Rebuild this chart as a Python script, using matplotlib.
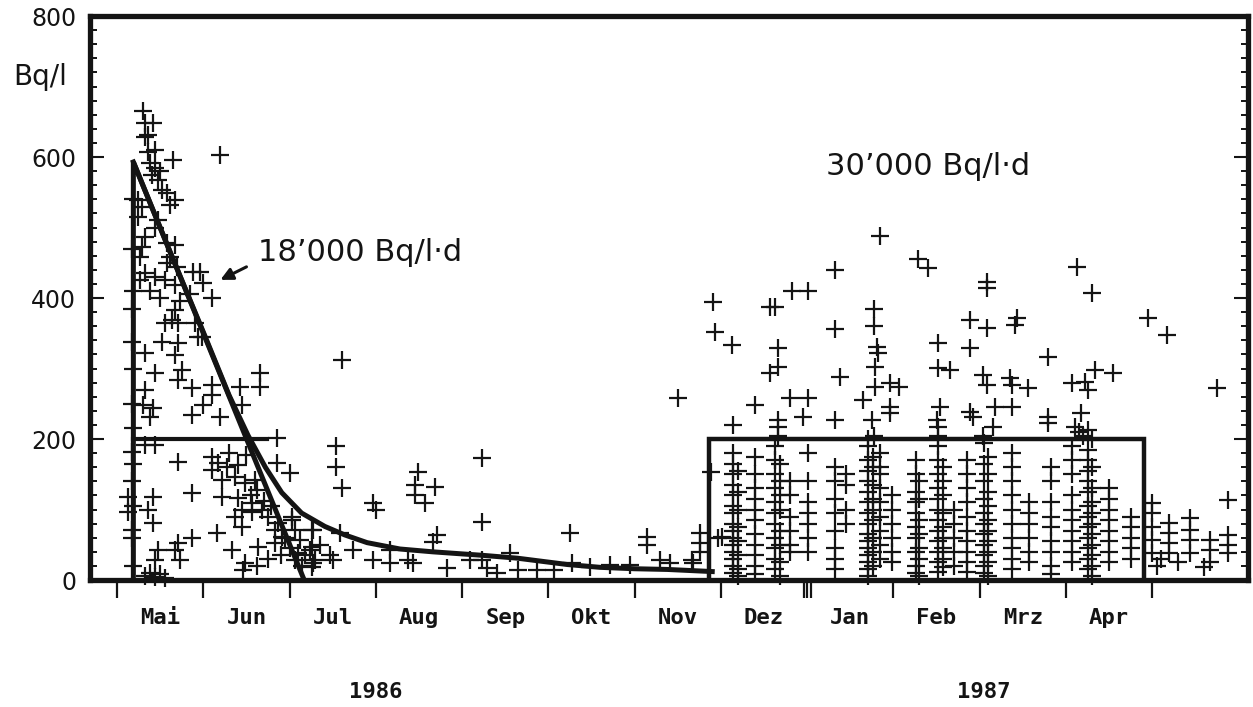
"""Tritium in Niederschlag 1986/87: Einzelmessungen mit Abklingkurve und Integralen."""

import matplotlib.pyplot as plt
import matplotlib.transforms as mtransforms
from matplotlib.ticker import MultipleLocator, FixedLocator, NullFormatter

# x: Monate ab 1. Mai 1986, y: Bq/l
month_names = ['Mai', 'Jun', 'Jul', 'Aug', 'Sep', 'Okt', 'Nov',
               'Dez', 'Jan', 'Feb', 'Mrz', 'Apr']
year_labels = [(3.0, '1986'), (10.05, '1987')]

# Messwerte Mai - Juli 1986
spring_pts = [
    (0.30, 665), (0.32, 648), (0.42, 648), (0.36, 631), (0.32, 628), (0.44, 610),
    (0.36, 607), (0.65, 596), (1.19, 603), (0.38, 592), (0.44, 585), (0.50, 580),
    (0.41, 575), (0.48, 567), (0.52, 553), (0.58, 549), (0.67, 539), (0.61, 532),
    (0.24, 539), (0.29, 529), (0.24, 515), (0.48, 510), (0.44, 500), (0.32, 486),
    (0.29, 472), (0.27, 458), (0.58, 478), (0.67, 475), (0.61, 458), (0.58, 449),
    (0.70, 444), (0.88, 437), (0.96, 437), (1.00, 421), (1.10, 400), (0.32, 435),
    (0.44, 430), (0.56, 425), (0.67, 418), (0.38, 410), (0.85, 406), (0.50, 400),
    (0.73, 396), (0.27, 425), (0.67, 383), (0.64, 369), (0.71, 364), (0.56, 364),
    (0.90, 364), (0.99, 345), (0.52, 337), (0.71, 336), (0.94, 345), (0.32, 322),
    (0.67, 319), (0.75, 298), (0.44, 294), (0.71, 284), (1.66, 294), (1.66, 274),
    (0.87, 272), (1.10, 276), (1.10, 262), (1.43, 274), (1.00, 248), (0.87, 234),
    (1.19, 231), (1.45, 248), (0.32, 269), (0.30, 248), (0.42, 244), (0.38, 231),
    (0.32, 191), (0.44, 191), (1.86, 201), (0.71, 167), (1.10, 174), (1.17, 166),
    (1.10, 156), (1.28, 160), (1.40, 163), (1.22, 142), (1.37, 146), (1.48, 137),
    (1.60, 142), (2.01, 152), (1.86, 166), (0.87, 123), (1.22, 118), (1.40, 116),
    (1.57, 109), (1.45, 99), (0.13, 118), (0.42, 118), (0.36, 99), (0.42, 81),
    (0.13, 96), (0.17, 71), (1.37, 89), (1.57, 96), (1.68, 99), (1.75, 89),
    (1.87, 81), (2.03, 85), (1.45, 75), (1.16, 67), (0.87, 60), (0.71, 52),
    (0.67, 43), (0.48, 43), (0.44, 28), (0.73, 28), (1.33, 43), (1.63, 47),
    (1.83, 52), (1.91, 61), (1.48, 24), (1.46, 14), (1.83, 71), (2.06, 71),
    (2.03, 89), (2.26, 71), (2.26, 47), (2.30, 28), (2.06, 28), (2.26, 18),
    (0.32, 5), (0.38, 10), (0.44, 4), (0.50, 8), (0.56, 3),
    (0.17, 337), (0.19, 300), (0.17, 250), (0.19, 215), (0.17, 182), (0.19, 165),
    (0.17, 140), (0.19, 105), (0.17, 60), (0.19, 20), (0.19, 540), (0.17, 470),
    (0.19, 410), (0.17, 385), (1.30, 180), (1.50, 178), (1.55, 120), (1.62, 128),
    (1.70, 112), (1.78, 105), (1.95, 60), (2.00, 45), (2.10, 38), (2.15, 20),
    (1.90, 35), (1.75, 30), (1.62, 20),
]

# Messwerte Juli - November 1986
summer_pts = [
    (2.61, 312), (2.54, 190), (2.54, 160), (2.61, 130), (2.97, 109), (3.00, 99),
    (3.49, 153), (3.46, 135), (3.46, 120), (3.69, 132), (3.57, 109), (4.23, 173),
    (4.23, 82), (3.71, 64), (3.66, 54), (5.25, 67), (6.14, 61), (6.14, 50),
    (6.50, 258), (2.27, 71), (2.24, 43), (2.27, 24), (2.50, 28), (2.59, 67),
    (2.74, 43), (2.97, 28), (3.17, 43), (3.17, 24), (3.43, 24), (3.37, 28),
    (3.83, 17), (4.09, 28), (4.23, 28), (4.56, 38), (4.29, 17), (4.41, 10),
    (4.65, 14), (4.87, 14), (5.06, 14), (5.28, 24), (5.48, 18), (5.72, 21),
    (5.95, 21), (6.30, 28), (6.41, 24), (6.68, 24), (6.76, 67), (6.76, 52),
    (6.76, 40), (6.67, 28), (2.35, 50), (2.47, 35), (2.12, 57), (2.18, 35),
]

# Winter 1986/87, Einzelwerte (meist ueber 200 Bq/l)
winter_pts = [
    (6.91, 394), (6.93, 352), (7.13, 333), (7.63, 387), (7.57, 387), (7.83, 410),
    (8.01, 410), (8.32, 440), (8.85, 488), (9.29, 455), (9.40, 442), (8.32, 356),
    (8.77, 384), (8.77, 360), (8.81, 330), (8.82, 322), (8.79, 302), (7.66, 329),
    (7.66, 302), (7.57, 294), (8.38, 288), (7.80, 258), (8.01, 258), (7.95, 231),
    (8.32, 227), (7.40, 248), (7.14, 220), (7.66, 227), (7.66, 217), (9.52, 336),
    (9.52, 301), (9.66, 298), (8.79, 274), (8.65, 255), (8.96, 279), (9.06, 274),
    (8.96, 245), (8.75, 227), (8.96, 237), (9.54, 245), (9.51, 227), (9.52, 217),
    (10.09, 423), (10.09, 414), (9.89, 369), (10.09, 357), (10.43, 372), (10.41, 362),
    (9.89, 329), (11.13, 444), (11.30, 407), (11.95, 372), (12.17, 347), (10.79, 316),
    (12.75, 272), (10.04, 291), (10.09, 276), (10.35, 286), (10.38, 276), (10.56, 272),
    (11.07, 279), (11.22, 281), (11.34, 298), (11.54, 294), (11.25, 269), (9.89, 238),
    (9.92, 231), (10.18, 245), (10.38, 245), (10.16, 217), (10.79, 231), (10.79, 223),
    (11.17, 237), (11.11, 217), (11.25, 213), (7.66, 205), (8.77, 205), (9.52, 205),
    (11.20, 205), (11.30, 200), (11.15, 210), (8.70, 200), (10.04, 205),
    (6.88, 153), (7.01, 61), (6.97, 60),
]

# Winter 1986/87, Messreihen je Sammeltag
winter_columns = {
    7.14: [180, 165, 150, 135, 120, 105, 95, 80, 70, 60, 50, 40, 30, 20, 10],
    7.20: [155, 125, 100, 75, 55, 35, 15, 5],
    7.40: [175, 150, 130, 115, 100, 85, 65, 50, 35, 20, 8],
    7.63: [190, 170, 150, 130, 110, 95, 80, 60, 45, 30, 15],
    7.68: [165, 140, 120, 100, 70, 50, 25, 6],
    7.80: [140, 120, 90, 70, 50, 40],
    8.01: [180, 140, 110, 95, 80, 60, 40],
    8.32: [160, 140, 115, 95, 70, 45, 30, 15],
    8.45: [150, 135, 100, 80],
    8.70: [190, 170, 155, 140, 125, 110, 95, 80, 65, 55, 45, 35, 25, 15, 5],
    8.76: [175, 160, 135, 115, 100, 85, 60, 40, 20],
    8.85: [180, 160, 150, 130, 110, 90, 70, 50, 30],
    8.98: [120, 100, 80, 60, 40, 25],
    9.26: [170, 150, 125, 110, 95, 75, 60, 40, 20, 10],
    9.30: [140, 115, 85, 65, 45, 30, 6],
    9.52: [190, 170, 150, 130, 115, 100, 85, 70, 55, 40, 25, 12],
    9.57: [160, 140, 120, 95, 75, 60, 45, 30, 18],
    9.70: [100, 80, 60, 40, 20],
    9.85: [170, 150, 130, 110, 90, 70, 55, 40, 25, 12],
    10.05: [195, 165, 140, 115, 95, 80, 65, 50, 35, 20, 10],
    10.10: [175, 150, 125, 105, 85, 70, 55, 40, 25, 5],
    10.38: [180, 160, 140, 120, 100, 80, 60, 45, 30, 15],
    10.57: [110, 95, 80, 60, 40, 25],
    10.83: [160, 140, 110, 90, 75, 55, 40, 20, 8],
    11.07: [190, 170, 150, 120, 100, 85, 70, 55, 40, 25],
    11.25: [185, 170, 155, 140, 125, 105, 90, 75, 60, 45, 30, 15],
    11.30: [160, 130, 110, 95, 80, 65, 50, 35, 20, 6],
    11.50: [130, 115, 100, 85, 70, 55, 40, 25],
    11.75: [90, 75, 60, 45, 30],
}

# Mai 1987
late_pts = [
    (12.00, 109), (12.00, 95), (12.00, 75), (12.00, 57), (12.00, 38), (12.19, 81),
    (12.19, 67), (12.19, 52), (12.19, 38), (12.44, 88), (12.44, 71), (12.44, 57),
    (12.44, 38), (12.67, 57), (12.67, 43), (12.67, 26), (12.88, 64), (12.88, 50),
    (12.88, 38), (12.88, 113), (12.05, 20), (12.30, 25), (12.60, 18), (12.10, 30),
]

# Dreieck fuer das Integral 18'000 Bq/l.d
triangle_x = [0.19, 0.19, 2.17]
triangle_y = [0, 593, 0]
# Stufe bei 200 Bq/l
step_x = [0.19, 1.74]
step_y = [200, 200]
# Abklingkurve
decay_x = [0.19, 0.60, 1.00, 1.30, 1.52, 1.72, 1.91, 2.14, 2.41, 2.64, 2.90,
           3.28, 3.66, 4.24, 4.64, 5.22, 5.60, 6.00, 6.38, 6.90]
decay_y = [593, 470, 352, 262, 205, 160, 124, 95, 76, 64, 53,
           44, 40, 35, 31, 22, 18, 16, 15, 12]
# Rechteck fuer das Integral 30'000 Bq/l.d
box_x = [6.86, 6.86, 11.90, 11.90]
box_y = [0, 200, 200, 0]

ink = '#141414'

fig = plt.figure(figsize=(12.53, 7.07), dpi=100)
ax = fig.add_axes([0.0718, 0.1796, 0.9242, 0.7977])

# alle Messpunkte als Kreuze
xs, ys = [], []
for pts in (spring_pts, summer_pts, winter_pts, late_pts):
    xs += [p[0] for p in pts]
    ys += [p[1] for p in pts]
for day, vals in winter_columns.items():
    xs += [day] * len(vals)
    ys += vals
ax.scatter(xs, ys, marker='+', s=150, linewidths=1.6, color=ink, zorder=3,
           clip_on=False)

ax.plot(triangle_x, triangle_y, color=ink, lw=3.6, solid_joinstyle='miter', zorder=4)
ax.plot(step_x, step_y, color=ink, lw=3.0, zorder=4)
ax.plot(decay_x, decay_y, color=ink, lw=3.6, zorder=4)
ax.plot(box_x, box_y, color=ink, lw=3.2, solid_joinstyle='miter', zorder=4)

ax.set_xlim(-0.313, 13.11)
ax.set_ylim(0, 800)

# Achsen
for side in ax.spines.values():
    side.set_linewidth(3.8)
    side.set_color(ink)

ax.yaxis.set_major_locator(MultipleLocator(200))
ax.yaxis.set_minor_locator(MultipleLocator(20))
ax.tick_params(axis='y', which='major', direction='in', length=10, width=1.5,
               left=True, right=True, labelsize=17, pad=10, colors=ink)
ax.tick_params(axis='y', which='minor', direction='in', length=5, width=1.3,
               left=True, right=True)
for lab in ax.get_yticklabels():
    lab.set_fontfamily('DejaVu Sans')

# Monatsgrenzen unten, Jahreswechsel dreifach
month_ticks = [0, 1, 2, 3, 4, 5, 6, 7, 7.96, 8, 8.04, 9, 10, 11, 12]
ax.xaxis.set_major_locator(FixedLocator(month_ticks))
ax.xaxis.set_major_formatter(NullFormatter())
ax.xaxis.set_minor_locator(FixedLocator([k + 0.5 for k in range(12)]))
ax.set_xticklabels(month_names, minor=True, fontfamily='DejaVu Sans Mono',
                   fontweight='bold', fontsize=16)
ax.tick_params(axis='x', which='major', direction='out', length=13, width=1.6,
               colors=ink, top=False)
ax.tick_params(axis='x', which='minor', length=0, pad=20, colors=ink, top=False)

trans = mtransforms.blended_transform_factory(ax.transData, ax.transAxes)
for xpos, year in year_labels:
    ax.text(xpos, -0.199, year, transform=trans, ha='center', va='center',
            fontfamily='DejaVu Sans Mono', fontweight='bold', fontsize=16,
            color=ink)

ax.text(-0.043, 0.892, 'Bq/l', transform=ax.transAxes, ha='center', va='center',
        fontfamily='DejaVu Sans', fontsize=20, color=ink)

ax.text(1.63, 465, '18\u2019000 Bq/l\u00b7d', ha='left', va='center',
        fontfamily='DejaVu Sans', fontsize=22, color=ink)
ax.annotate('', xy=(1.17, 424), xytext=(1.53, 446),
            arrowprops=dict(arrowstyle='-|>', color=ink, lw=2.2,
                            mutation_scale=18))
ax.text(8.22, 586, '30\u2019000 Bq/l\u00b7d', ha='left', va='center',
        fontfamily='DejaVu Sans', fontsize=22, color=ink)

fig.savefig('out.png', dpi=100, facecolor='white')
